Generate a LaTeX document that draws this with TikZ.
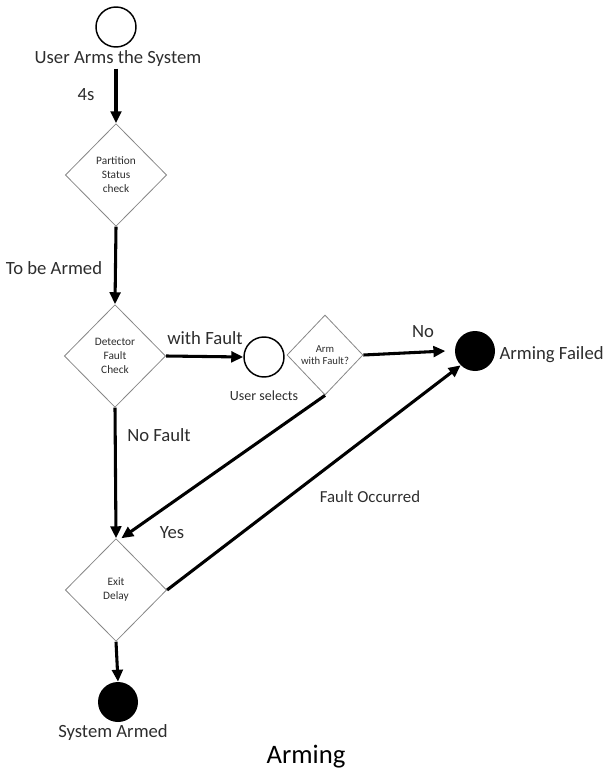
\documentclass[tikz,border=0pt]{standalone}
\usepackage{fontspec}
\setmainfont{Carlito}
\usetikzlibrary{shapes.geometric, arrows.meta, positioning}
\definecolor{edgegray}{RGB}{135,135,135}
\definecolor{inkgray}{RGB}{45,45,45}

\begin{document}
\begin{tikzpicture}[
  x=0.75pt, y=-0.75pt,
  decision/.style = {diamond, draw=edgegray, line width=0.6pt, inner sep=0pt,
                     minimum width=76pt, minimum height=77pt, align=center,
                     font=\fontsize{8.5}{10.5}\selectfont, text=inkgray},
  opencirc/.style = {circle, draw=black, line width=1.1pt, minimum size=30pt, inner sep=0pt},
  endcirc/.style  = {circle, fill=black, minimum size=30pt, inner sep=0pt},
  flow/.style     = {-{Triangle[length=9pt, width=8pt]}, line width=2.3pt},
  lbl/.style      = {font=\fontsize{14}{16}\selectfont, text=inkgray, inner sep=1pt},
]
\useasboundingbox (0,0) rectangle (609,773);

%% --- Main column ---
\node[opencirc] (start) at (116,27) {};
\node[lbl] (startlbl) at (118,59) {User Arms the System};
\node[decision] (partition) at (116,175) {Partition\\Status\\check};
\node[decision] (detector)  at (115,356) {Detector\\Fault\\Check};
\node[decision] (exitd)     at (116,590) {Exit\\Delay};
\node[endcirc] (armed) at (118,702) {};
\node[lbl] (armedlbl) at (113,733) {System Armed};

%% --- Fault branch ---
\node[opencirc] (selects) at (264,357) {};
\node[lbl, font=\fontsize{10.5}{12}\selectfont] (selectslbl) at (264,396) {User selects};
\node[decision, minimum width=57pt, minimum height=60pt,
      font=\fontsize{8}{9.5}\selectfont] (armq) at (325,355) {Arm\\with Fault?};
\node[endcirc] (failed) at (475,351) {};
\node[lbl, anchor=west] (failedlbl) at (498,355) {Arming Failed};

%% --- Arrows ---
\draw[flow] (startlbl.south -| partition.north) -- (partition.north);
\draw[flow] (partition.south) -- (detector.north);
\draw[flow] (detector.east) -- (selects.west);
\draw[flow] (armq.east) -- ([xshift=-7pt]failed.west);
\draw[flow] (detector.south) -- (exitd.north);
\draw[flow] (armq.south) -- ([xshift=4pt]exitd.north);
\draw[flow] (exitd.east) -- (failed.225);
\draw[flow] (exitd.south) -- (armed.north);

%% --- Edge labels ---
\node[lbl] (lfour)   at (86,95)   {4s};
\node[lbl] (larmed)  at (54,268)  {To be Armed};
\node[lbl] (lwith)   at (205,338) {with Fault};
\node[lbl] (lno)     at (423,332) {No};
\node[lbl] (lnofault) at (159,435) {No Fault};
\node[lbl] (lyes)    at (172,533) {Yes};
\node[lbl, font=\fontsize{12.6}{14}\selectfont] (loccur) at (370,497) {Fault Occurred};

%% --- Caption ---
\node[font=\fontsize{20}{23}\selectfont] (caption) at (306,757) {Arming};

\end{tikzpicture}
\end{document}
